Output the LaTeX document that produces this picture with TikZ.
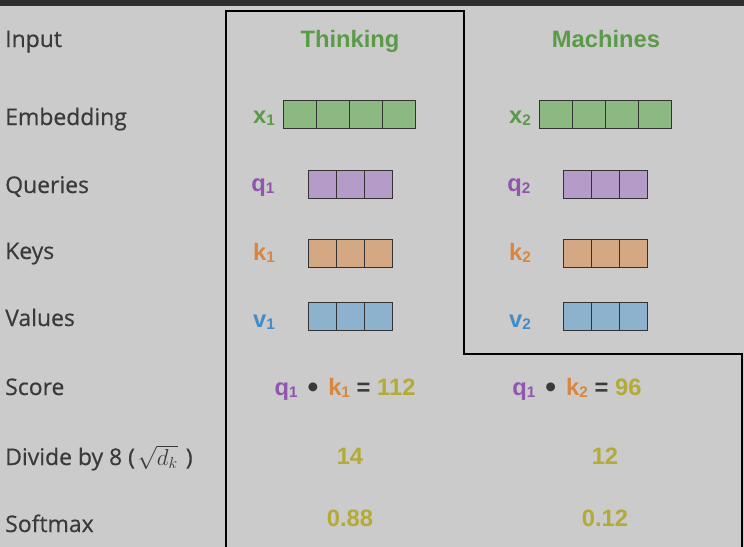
\documentclass[tikz,border=0pt]{standalone}
\usepackage{fontspec}
\newfontfamily\lblfont[FakeBold=0.5]{Open Sans}
\newfontfamily\arfont{Liberation Sans}
\definecolor{bgc}{HTML}{CBCBCB}
\definecolor{topc}{HTML}{2F2F2F}
\definecolor{txtc}{HTML}{3A3A3A}
\definecolor{gtxt}{HTML}{5B9B47}
\definecolor{gfill}{HTML}{8CB982}
\definecolor{ptxt}{HTML}{9155AF}
\definecolor{pfill}{HTML}{B49BC8}
\definecolor{otxt}{HTML}{D78741}
\definecolor{ofill}{HTML}{D4A882}
\definecolor{btxt}{HTML}{418CC8}
\definecolor{bfill}{HTML}{8CB2CD}
\definecolor{ytxt}{HTML}{B4AA37}
\definecolor{cellc}{HTML}{333333}
\newcommand\lsub[1]{\raisebox{-1.5pt}{\fontsize{11.5}{11.5}\selectfont #1}}
\newcommand\bigdot{\textcolor{txtc}{\raisebox{-2.2pt}{\fontsize{23}{23}\selectfont •}}}
\begin{document}
\begin{tikzpicture}[x=0.75pt,y=-0.75pt,
  rowlbl/.style={anchor=base west,inner sep=0pt,text=txtc,font=\lblfont\fontsize{17.2}{17.2}\selectfont},
  coltxt/.style={anchor=base,inner sep=0pt,font=\arfont\bfseries\fontsize{17.8}{17.8}\selectfont},
  vlbl/.style={anchor=base,inner sep=0pt,font=\arfont\bfseries\fontsize{17.8}{17.8}\selectfont},
  cellbox/.style={draw=cellc,line width=0.75pt}]
\useasboundingbox (0,0) rectangle (744,547);
\fill[bgc] (0,0) rectangle (744,547);
\fill[topc] (0,0) rectangle (744,6);
% outline
\draw[line width=1.6pt,black] (226,550) -- (226,11) -- (464,11) -- (464,354) -- (742,354) -- (742,550);
% row labels
\node[rowlbl] (lInput) at (5,47) {Input};
\node[rowlbl] (lEmb) at (5,125) {Embedding};
\node[rowlbl] (lQ) at (5,193) {Queries};
\node[rowlbl] (lK) at (5,259) {Keys};
\node[rowlbl] (lV) at (5,326) {Values};
\node[rowlbl] (lS) at (5,395) {Score};
\node[rowlbl] (lD) at (5,465) {Divide by 8 (\hspace{2pt}{\fontsize{17}{17}\selectfont$\sqrt{d_k}$}\hspace{6pt})};
\node[rowlbl] (lSm) at (5,532) {Softmax};
% titles
\node[coltxt,text=gtxt] (t1) at (350,47) {Thinking};
\node[coltxt,text=gtxt] (t2) at (606,47) {Machines};
% vector labels
\node[vlbl,text=gtxt] (x1) at (264,123) {x\lsub{1}};
\node[vlbl,text=ptxt] (q1) at (263,191) {q\lsub{1}};
\node[vlbl,text=otxt] (k1) at (264,260) {k\lsub{1}};
\node[vlbl,text=btxt] (v1) at (264,327) {v\lsub{1}};
\node[vlbl,text=gtxt] (x2) at (520,123) {x\lsub{2}};
\node[vlbl,text=ptxt] (q2) at (519,191) {q\lsub{2}};
\node[vlbl,text=otxt] (k2) at (520,260) {k\lsub{2}};
\node[vlbl,text=btxt] (v2) at (520,327) {v\lsub{2}};
% cells
\foreach \i in {0,...,3}{
  \draw[cellbox,fill=gfill] (283+33*\i,100) rectangle +(33,28);
  \draw[cellbox,fill=gfill] (539+33*\i,100) rectangle +(33,28);
}
\foreach \i in {0,...,2}{
  \draw[cellbox,fill=pfill] (308+28*\i,170) rectangle +(28,28);
  \draw[cellbox,fill=ofill] (308+28*\i,239) rectangle +(28,28);
  \draw[cellbox,fill=bfill] (308+28*\i,302) rectangle +(28,28);
  \draw[cellbox,fill=pfill] (563+28*\i,170) rectangle +(28,28);
  \draw[cellbox,fill=ofill] (563+28*\i,239) rectangle +(28,28);
  \draw[cellbox,fill=bfill] (563+28*\i,302) rectangle +(28,28);
}
% score
\node[vlbl] (s1) at (345,395) {\textcolor{ptxt}{q\lsub{1}}\hspace{7.5pt}\bigdot\hspace{7.5pt}\textcolor{otxt}{k\lsub{1}}\hspace{5pt}\textcolor{txtc}{=}\hspace{5pt}\textcolor{ytxt}{112}};
\node[vlbl] (s2) at (577,395) {\textcolor{ptxt}{q\lsub{1}}\hspace{7.5pt}\bigdot\hspace{7.5pt}\textcolor{otxt}{k\lsub{2}}\hspace{5pt}\textcolor{txtc}{=}\hspace{5pt}\textcolor{ytxt}{96}};
% divide
\node[vlbl,text=ytxt] (d1) at (350,464) {14};
\node[vlbl,text=ytxt] (d2) at (605,464) {12};
% softmax
\node[vlbl,text=ytxt] (m1) at (350,526) {0.88};
\node[vlbl,text=ytxt] (m2) at (605,526) {0.12};
\end{tikzpicture}
\end{document}
